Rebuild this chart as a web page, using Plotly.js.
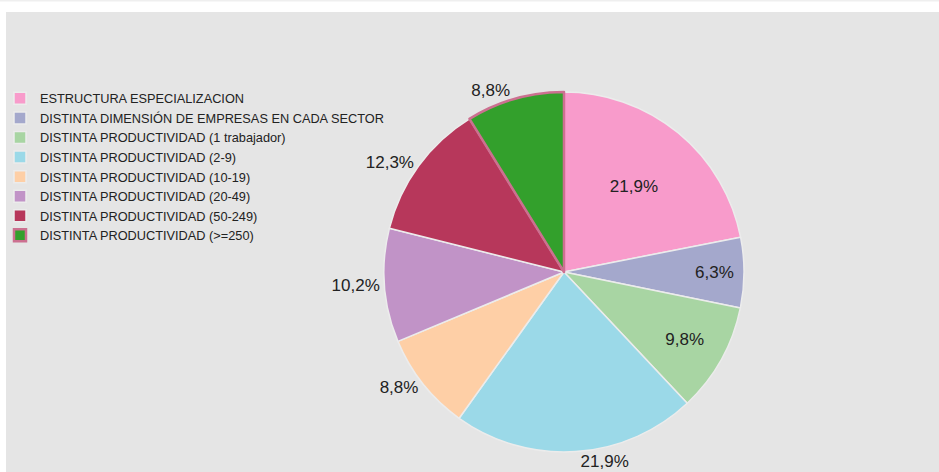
<!DOCTYPE html>
<html>
<head>
<meta charset="utf-8">
<script src="https://cdn.plot.ly/plotly-3.0.1.min.js"></script>
<style>
html,body{margin:0;padding:0;background:#fff;}
#chart{width:939px;height:472px;}
</style>
</head>
<body>
<div id="chart"></div>
<script>
const categories = [
  "ESTRUCTURA ESPECIALIZACION",
  "DISTINTA DIMENSIÓN DE EMPRESAS EN CADA SECTOR",
  "DISTINTA PRODUCTIVIDAD (1 trabajador)",
  "DISTINTA PRODUCTIVIDAD (2-9)",
  "DISTINTA PRODUCTIVIDAD (10-19)",
  "DISTINTA PRODUCTIVIDAD (20-49)",
  "DISTINTA PRODUCTIVIDAD (50-249)",
  "DISTINTA PRODUCTIVIDAD (>=250)"
];
const values = [21.9, 6.3, 9.8, 21.9, 8.8, 10.2, 12.3, 8.8];
const colors = ["#f89bcb", "#a4a8cc", "#a8d5a3", "#9bd9e8", "#fecfa6", "#c193c7", "#b7375b", "#33a02c"];
const lineColors = ["#ececec", "#ececec", "#ececec", "#ececec", "#ececec", "#ececec", "#ececec", "#cc7090"];
const lineWidths = [1.5, 1.5, 1.5, 1.5, 1.5, 1.5, 1.5, 2.5];
const textPositions = ["inside", "inside", "inside", "outside", "outside", "outside", "outside", "outside"];

const W = 939, H = 472;
const cx = 564, cy = 272, r = 180;

const trace = {
  type: "pie",
  labels: categories,
  values: values,
  sort: false,
  direction: "clockwise",
  rotation: 0,
  marker: {colors: colors, line: {color: lineColors, width: lineWidths}},
  texttemplate: "%{value:.1f}%",
  textposition: textPositions,
  insidetextorientation: "horizontal",
  textfont: {family: "Liberation Sans, Arial, sans-serif", size: 17, color: "#222"},
  outsidetextfont: {family: "Liberation Sans, Arial, sans-serif", size: 17, color: "#222"},
  hoverinfo: "label+percent",
  domain: {x: [(cx - r) / W, (cx + r) / W], y: [(H - cy - r) / H, (H - cy + r) / H]}
};

const layout = {
  width: W, height: H,
  margin: {l: 0, r: 0, t: 0, b: 0},
  paper_bgcolor: "#ffffff",
  separators: ",.",
  showlegend: true,
  legend: {
    x: 0.0, y: 0.823, xanchor: "left", yanchor: "top",
    bgcolor: "rgba(0,0,0,0)",
    font: {family: "Liberation Sans, Arial, sans-serif", size: 12.75, color: "#222"},
    tracegroupgap: 0
  },
  shapes: [
    {type: "rect", xref: "paper", yref: "paper", x0: 6 / W, x1: 1, y0: 0, y1: (H - 12) / H,
     fillcolor: "#e5e5e5", line: {width: 0}, layer: "below"},
    {type: "rect", xref: "paper", yref: "paper", x0: 0, x1: 1, y0: (H - 1.5) / H, y1: 1,
     fillcolor: "#efefef", line: {width: 0}, layer: "below"}
  ]
};

Plotly.newPlot("chart", [trace], layout, {displayModeBar: false, staticPlot: true});
</script>
</body>
</html>
